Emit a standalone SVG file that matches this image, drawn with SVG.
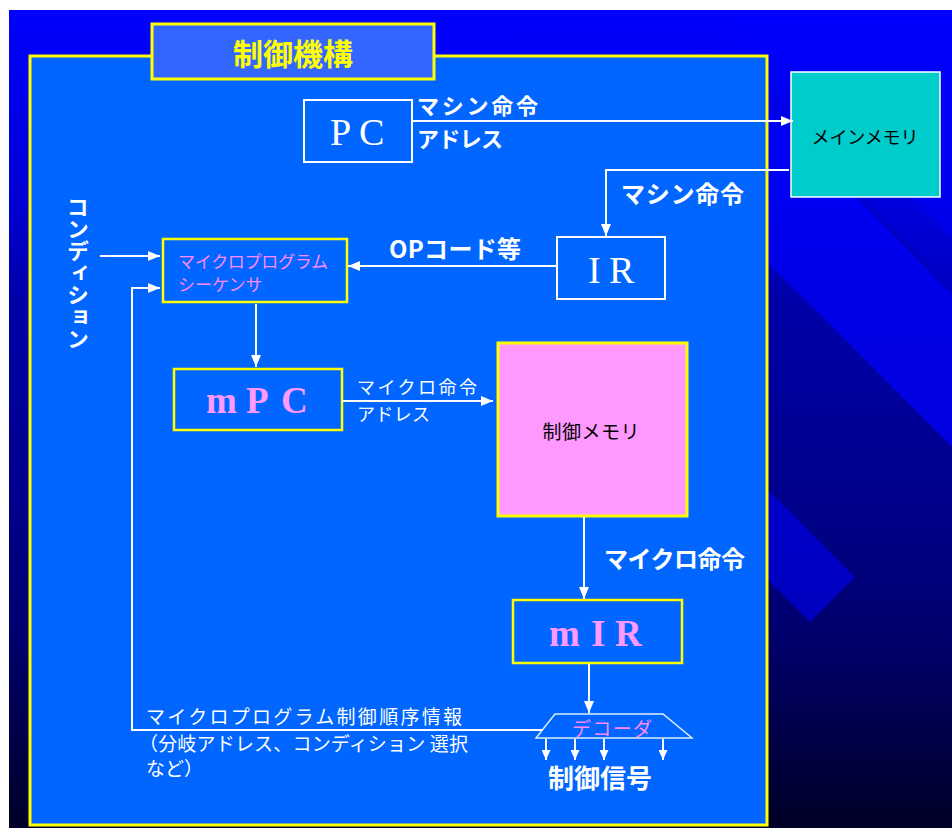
<svg xmlns="http://www.w3.org/2000/svg" width="952" height="828" viewBox="0 0 952 828">
<defs>
<linearGradient id="bg" gradientUnits="userSpaceOnUse" x1="0" y1="10" x2="0" y2="828">
<stop offset="0" stop-color="#0000FF"/>
<stop offset="0.232" stop-color="#0000D4"/>
<stop offset="0.355" stop-color="#0000A8"/>
<stop offset="0.6" stop-color="#00008C"/>
<stop offset="0.77" stop-color="#00006C"/>
<stop offset="1" stop-color="#000026"/>
</linearGradient>
<marker id="arr" viewBox="0 0 12 10" refX="12" refY="5" markerWidth="12" markerHeight="10" orient="auto" markerUnits="userSpaceOnUse"><path d="M0,0 L12,5 L0,10 z" fill="#FFFFFF"/></marker>
<marker id="arrs" viewBox="0 0 10 9" refX="10" refY="4.5" markerWidth="10" markerHeight="9" orient="auto" markerUnits="userSpaceOnUse"><path d="M0,0 L10,4.5 L0,9 z" fill="#FFFFFF"/></marker>
<style>
.ln{fill:none;stroke:#FFFFFF;stroke-width:2}
.ybox{fill:#0066FF;stroke:#FFFF00;stroke-width:3}
.wbox{fill:#0066FF;stroke:#FFFFFF;stroke-width:2}
.jb{font-family:"Noto Sans CJK JP","Noto Sans CJK SC",sans-serif;font-weight:bold;fill:#FFFFFF}
.jn{font-family:"Noto Sans CJK JP","Noto Sans CJK SC",sans-serif;font-weight:normal;fill:#FFFFFF}
.ser{font-family:"Liberation Serif",serif;fill:#FFFFFF}
</style>
</defs>
<rect x="0" y="0" width="952" height="828" fill="#FFFFFF"/>
<g id="background">
<rect x="9" y="10" width="943" height="818" fill="url(#bg)"/>
<polygon points="700,42 952,294 952,447 700,195" fill="#0000FF" opacity="0.7"/>
<polygon points="700,10 724,10 952,238 952,294" fill="#0000FF" opacity="0.25"/>
<polygon points="724,10 952,10 952,238" fill="#0000FF" opacity="0.6"/>
<polygon points="760,482 855,577 810,622 760,572" fill="#0000FF" opacity="0.55"/>
</g>
<g id="container">
<rect x="30" y="56" width="737" height="769" class="ybox"/>
</g>
<g id="title">
<rect x="152" y="24" width="282" height="55" fill="#3366FF" stroke="#FFFF00" stroke-width="3"/>
<text x="293" y="65" text-anchor="middle" class="jb" font-size="30" style="fill:#FFFF00">制御機構</text>
</g>
<g id="main-memory">
<rect x="791" y="72" width="149" height="125" fill="#00CCCC" stroke="#FFFFFF" stroke-width="1.5"/>
<text x="865" y="144" text-anchor="middle" class="jn" font-size="18" style="fill:#000000" textLength="107">メインメモリ</text>
</g>
<g id="pc">
<rect x="304" y="100" width="108" height="62" class="wbox"/>
<text y="145" class="ser" font-size="38"><tspan x="330">P</tspan><tspan x="359">C</tspan></text>
</g>
<g id="ir">
<rect x="557" y="237" width="108" height="62" class="wbox"/>
<text y="283" class="ser" font-size="38"><tspan x="588">I</tspan><tspan x="609">R</tspan></text>
</g>
<g id="sequencer">
<rect x="163" y="239" width="184" height="63" fill="#0066FF" stroke="#FFFF00" stroke-width="2.5"/>
<text x="178" y="268" class="jn" font-size="17" style="fill:#FF88FF" textLength="150">マイクロプログラム</text>
<text x="178" y="291" class="jn" font-size="17" style="fill:#FF88FF">シーケンサ</text>
</g>
<g id="mpc">
<rect x="174" y="369" width="168" height="61" fill="#0066FF" stroke="#FFFF00" stroke-width="2.5"/>
<text y="413" class="ser" font-size="37" font-weight="bold" style="fill:#FF99FF"><tspan x="206">m</tspan><tspan x="246">P</tspan><tspan x="281">C</tspan></text>
</g>
<g id="control-memory">
<rect x="498" y="343" width="189" height="173" fill="#FF99FF" stroke="#FFFF00" stroke-width="3"/>
<text x="591" y="439" text-anchor="middle" class="jn" font-size="19" style="fill:#000000" textLength="97">制御メモリ</text>
</g>
<g id="mir">
<rect x="513" y="600" width="169" height="63" fill="#0066FF" stroke="#FFFF00" stroke-width="2.5"/>
<text y="646" class="ser" font-size="37" font-weight="bold" style="fill:#FF99FF"><tspan x="549">m</tspan><tspan x="591">I</tspan><tspan x="615">R</tspan></text>
</g>
<g id="decoder">
<polygon points="555,714 663,714 692,738 536,738" fill="none" stroke="#DDEEFF" stroke-width="1.5"/>
<text x="612" y="736" text-anchor="middle" class="jn" font-size="19" style="fill:#FF88FF" textLength="80">デコーダ</text>
</g>
<g id="connectors">
<path d="M412,121 H793" class="ln" marker-end="url(#arr)"/>
<path d="M789,170 H606 V236" class="ln" marker-end="url(#arr)"/>
<path d="M557,266 H348" class="ln" marker-end="url(#arr)"/>
<path d="M100,256 H160" class="ln" marker-end="url(#arr)"/>
<path d="M542,730 H132 V288 H160" class="ln" marker-end="url(#arr)"/>
<path d="M256,304 V367" class="ln" marker-end="url(#arr)"/>
<path d="M342,401 H493" class="ln" marker-end="url(#arr)"/>
<path d="M584,517 V599" class="ln" marker-end="url(#arr)"/>
<path d="M589,664 V713" class="ln" marker-end="url(#arr)"/>
<path d="M546,739 V760" class="ln" marker-end="url(#arrs)"/>
<path d="M575,739 V760" class="ln" marker-end="url(#arrs)"/>
<path d="M604,739 V760" class="ln" marker-end="url(#arrs)"/>
<path d="M663,739 V760" class="ln" marker-end="url(#arrs)"/>
</g>
<g id="labels">
<text x="417" y="114" class="jb" font-size="22" textLength="121">マシン命令</text>
<text x="417" y="147" class="jb" font-size="22" textLength="86">アドレス</text>
<text x="621" y="203" class="jb" font-size="24" textLength="123">マシン命令</text>
<text x="389" y="258" class="jb" font-size="24" textLength="132">OPコード等</text>
<text x="78" y="196" class="jb" font-size="22" style="writing-mode:vertical-rl">コンディション</text>
<text x="357" y="394" class="jn" font-size="18" textLength="120">マイクロ命令</text>
<text x="357" y="421" class="jn" font-size="18" textLength="73">アドレス</text>
<text x="604" y="568" class="jb" font-size="24" textLength="141">マイクロ命令</text>
<text x="600" y="788" text-anchor="middle" class="jb" font-size="26" textLength="104">制御信号</text>
<text x="146" y="724" class="jn" font-size="19" textLength="316">マイクロプログラム制御順序情報</text>
<text x="139" y="751" class="jn" font-size="19" textLength="329">（分岐アドレス、コンディション 選択</text>
<text x="146" y="776" class="jn" font-size="19">など）</text>
</g>
</svg>
